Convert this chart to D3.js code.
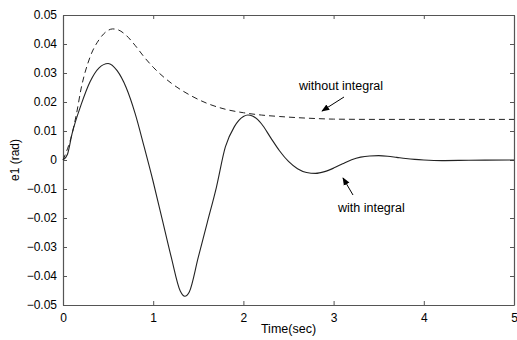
<!DOCTYPE html>
<html>
<head>
<meta charset="utf-8">
<script src="https://cdn.jsdelivr.net/npm/d3@7"></script>
<style>
  body { margin: 0; background: #fff; }
  svg { display: block; font-family: Arial, "Liberation Sans", sans-serif; }
</style>
</head>
<body>
<svg></svg>
<script>
const width = 517;
const height = 340;
const margin = { top: 15, right: 3, bottom: 35, left: 63 };

// with integral (solid)
const tWith = [0, 0.05, 0.1, 0.2, 0.3, 0.4, 0.5, 0.6, 0.7, 0.8, 0.9, 1.0, 1.1, 1.2, 1.3, 1.35, 1.4, 1.5, 1.6, 1.7, 1.8, 1.9, 2.0, 2.05, 2.1, 2.2, 2.3, 2.4, 2.5, 2.6, 2.7, 2.8, 2.9, 3.0, 3.1, 3.2, 3.3, 3.4, 3.5, 3.6, 3.7, 3.8, 3.9, 4.0, 4.2, 4.5, 5.0];
const eWith = [0, 0.002, 0.009, 0.019, 0.027, 0.0318, 0.0333, 0.0308, 0.025, 0.016, 0.0045, -0.0075, -0.0205, -0.0335, -0.0452, -0.047, -0.0455, -0.0335, -0.0215, -0.0095, 0.0045, 0.0115, 0.015, 0.0155, 0.0152, 0.0125, 0.0078, 0.0032, -0.0005, -0.003, -0.0043, -0.0046, -0.004, -0.0028, -0.0013, 0.0001, 0.001, 0.0014, 0.0015, 0.0013, 0.0009, 0.0005, 0.0002, 0.0, -0.0002, -0.0001, 0.0];

// without integral (dashed)
const tWithout = [0, 0.1, 0.15, 0.2, 0.3, 0.4, 0.5, 0.55, 0.6, 0.7, 0.8, 0.9, 1.0, 1.2, 1.4, 1.6, 1.8, 2.0, 2.2, 2.4, 2.6, 2.8, 3.0, 3.5, 5.0];
const eWithout = [0, 0.009, 0.016, 0.0245, 0.0355, 0.0415, 0.0447, 0.0452, 0.045, 0.043, 0.0395, 0.0355, 0.032, 0.0265, 0.0225, 0.0195, 0.0175, 0.0163, 0.0155, 0.015, 0.0146, 0.0143, 0.0141, 0.014, 0.014];

const xTicks = [0, 1, 2, 3, 4, 5];
const yTicks = [0.05, 0.04, 0.03, 0.02, 0.01, 0, -0.01, -0.02, -0.03, -0.04, -0.05];

const svg = d3.select("svg").attr("width", width).attr("height", height);

const x = d3.scaleLinear().domain([0, 5]).range([margin.left, width - margin.right]);
const y = d3.scaleLinear().domain([-0.05, 0.05]).range([height - margin.bottom, margin.top]);

const axisColor = "#555";
const fmt = (d) => (d === 0 ? "0" : d3.format(".2f")(d));

// Axes (ticks inward, mirrored on top/right)
const gx = svg.append("g")
  .attr("transform", `translate(0,${y(-0.05)})`)
  .call(d3.axisBottom(x).tickValues(xTicks).tickSizeInner(-4).tickSizeOuter(0).tickPadding(8).tickFormat(d3.format("d")));
const gy = svg.append("g")
  .attr("transform", `translate(${x(0)},0)`)
  .call(d3.axisLeft(y).tickValues(yTicks).tickSizeInner(-4).tickSizeOuter(0).tickPadding(6).tickFormat(fmt));
const gt = svg.append("g")
  .attr("transform", `translate(0,${y(0.05)})`)
  .call(d3.axisTop(x).tickValues(xTicks).tickSizeInner(-4).tickSizeOuter(0).tickFormat(""));
const gr = svg.append("g")
  .attr("transform", `translate(${x(5)},0)`)
  .call(d3.axisRight(y).tickValues(yTicks).tickSizeInner(-4).tickSizeOuter(0).tickFormat(""));

[gx, gy, gt, gr].forEach((g) => {
  g.select(".domain").attr("stroke", axisColor).attr("stroke-width", 1.2);
  g.selectAll(".tick line").attr("stroke", axisColor);
  g.selectAll(".tick text").attr("fill", "#000").style("font-size", "12px");
});

// Lines
const line = d3.line()
  .x((d) => x(d[0]))
  .y((d) => y(d[1]))
  .curve(d3.curveMonotoneX);

svg.append("path")
  .datum(d3.zip(tWithout, eWithout))
  .attr("d", line)
  .attr("fill", "none")
  .attr("stroke", "#222")
  .attr("stroke-width", 1)
  .attr("stroke-dasharray", "6,4");

svg.append("path")
  .datum(d3.zip(tWith, eWith))
  .attr("d", line)
  .attr("fill", "none")
  .attr("stroke", "#222")
  .attr("stroke-width", 1.1);

// Annotations
svg.append("defs").append("marker")
  .attr("id", "arrow")
  .attr("viewBox", "0 0 10 10")
  .attr("refX", 9).attr("refY", 5)
  .attr("markerWidth", 8).attr("markerHeight", 8)
  .attr("orient", "auto")
  .append("path")
  .attr("d", "M0,1 L10,5 L0,9 Z")
  .attr("fill", "#000");

svg.append("text")
  .attr("x", 299).attr("y", 90)
  .style("font-size", "12.5px")
  .text("without integral");
svg.append("line")
  .attr("x1", 344).attr("y1", 97).attr("x2", 322).attr("y2", 111)
  .attr("stroke", "#000").attr("stroke-width", 1)
  .attr("marker-end", "url(#arrow)");

svg.append("text")
  .attr("x", 338).attr("y", 212)
  .style("font-size", "12.5px")
  .text("with integral");
svg.append("line")
  .attr("x1", 353).attr("y1", 195).attr("x2", 343).attr("y2", 178)
  .attr("stroke", "#000").attr("stroke-width", 1)
  .attr("marker-end", "url(#arrow)");

// Axis labels
svg.append("text")
  .attr("x", x(2.5)).attr("y", 333)
  .attr("text-anchor", "middle")
  .style("font-size", "12.5px")
  .text("Time(sec)");

svg.append("text")
  .attr("transform", `translate(19,${y(0)}) rotate(-90)`)
  .attr("text-anchor", "middle")
  .style("font-size", "12px")
  .text("e1 (rad)");
</script>
</body>
</html>
